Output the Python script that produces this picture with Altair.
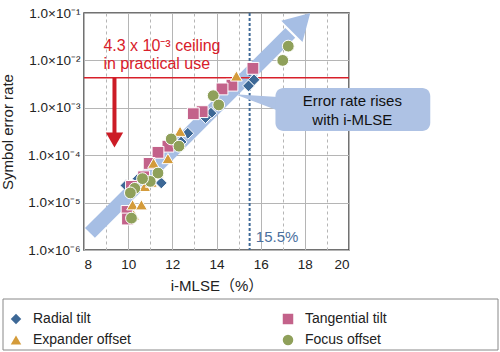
import altair as alt
import pandas as pd

FONT = "Liberation Sans, Arial, Noto Sans CJK JP, sans-serif"

# ---- series data ----
series_names = ["Radial tilt", "Tangential tilt", "Expander offset", "Focus offset"]
series_colors = ["#3d6896", "#c3628a", "#d49b3a", "#8fa05a"]
series_shapes = ["diamond", "square", "triangle-up", "circle"]

radial_x = [15.7, 15.45, 13.75, 13.5, 12.7, 12.4, 11.5, 10.45, 9.9]
radial_y = [3.9e-3, 2.9e-3, 7.7e-4, 6.2e-4, 2.9e-4, 1.9e-4, 2.6e-5, 3.2e-5, 2.3e-5]

tangential_x = [15.65, 14.7, 14.25, 13.35, 12.95, 11.8, 11.35, 10.95, 10.7, 10.15, 9.95, 9.97]
tangential_y = [6.8e-3, 3.0e-3, 2.5e-3, 8.3e-4, 7.5e-4, 1.55e-4, 1.15e-4, 6.7e-5, 3.5e-5, 2.2e-5, 6.5e-6, 4.5e-6]

expander_x = [14.9, 12.35, 11.8, 11.15, 11.35, 10.75, 11.05, 10.2, 10.6, 10.25]
expander_y = [4.7e-3, 3.2e-4, 8.5e-5, 6.8e-5, 4.3e-5, 2.2e-5, 2.7e-5, 9e-6, 9e-6, 5.5e-6]

focus_x = [17.25, 17.0, 13.85, 14.1, 11.95, 12.3, 11.35, 11.0, 10.65, 10.3, 10.1, 10.15]
focus_y = [2.0e-2, 1.0e-2, 1.8e-3, 1.15e-3, 2.2e-4, 1.55e-4, 4.2e-5, 2.8e-5, 3.2e-5, 2.0e-5, 1.6e-5, 4.7e-6]

# ---- axes ----
x_tick_values = list(range(8, 21))
y_tick_values = [1e-6, 1e-5, 1e-4, 1e-3, 1e-2, 1e-1]
y_tick_labels = ["1.0×10⁻⁶", "1.0×10⁻⁵", "1.0×10⁻⁴", "1.0×10⁻³", "1.0×10⁻²", "1.0×10⁻¹"]

# ---- annotations (data space) ----
ceiling_value = 4.3e-3
ceiling_arrow_x = [9.38, 9.38]
ceiling_arrow_y = [4.3e-3, 2.9e-4]
ceiling_head_x = [9.38]
ceiling_head_y = [2.1e-4]
ceiling_text = ["4.3 x 10⁻³ ceiling", "in practical use"]
ceiling_text_x = [8.88, 8.88]
ceiling_text_y = [2.0e-2, 8.4e-3]

limit_x = 15.5
limit_label = "15.5%"
limit_label_x = 15.78
limit_label_y = 1.86e-6

trend_x = [8.27, 17.34]
trend_y = [2.3e-6, 3.8e-2]
trend_head_x = [17.83]
trend_head_y = [6.4e-2]

callout_text = ["Error rate rises", "with i-MLSE"]
callout_text_x = [20.15, 20.15]
callout_text_y = [1.38e-3, 5.5e-4]
callout_box = {"x": 16.67, "x2": 23.68, "y": 2.63e-3, "y2": 3.24e-4}
pointer_x = [14.99, 16.9]
pointer_y = [1.86e-3, 1.2e-3]
pointer_w = [0, 14]

# ---- build tables ----
rows = []
for name, xs, ys in zip(series_names,
                        [radial_x, tangential_x, expander_x, focus_x],
                        [radial_y, tangential_y, expander_y, focus_y]):
    rows += [{"series": name, "x": a, "y": b} for a, b in zip(xs, ys)]
points_df = pd.DataFrame(rows)

label_expr = ""
for i, lab in enumerate(y_tick_labels[:-1]):
    label_expr += f"datum.value < {y_tick_values[i] * 3} ? '{lab}' : "
label_expr += f"'{y_tick_labels[-1]}'"

x_scale = alt.Scale(domain=[8, 20], nice=False, zero=False)
y_scale = alt.Scale(type="log", domain=[1e-6, 1e-1], nice=False)

x_axis = alt.Axis(
    values=x_tick_values,
    labelExpr="datum.value % 2 == 0 ? datum.label : ''",
    ticks=False, domain=False,
    gridColor="#b5b5b5",
    gridDash=alt.condition("datum.value % 2 == 1", alt.value([3, 3]), alt.value([])),
    labelFontSize=13.5, labelColor="#222", labelPadding=7,
    titleFontSize=15, titleFontWeight="normal", titleColor="#222", titlePadding=8,
)
y_axis = alt.Axis(
    values=y_tick_values, labelExpr=label_expr,
    ticks=False, domain=False, gridColor="#b5b5b5",
    labelFontSize=13.5, labelColor="#222", labelPadding=4,
    titleFontSize=15, titleFontWeight="normal", titleColor="#222", titlePadding=12,
)


def X(field="x"):
    return alt.X(f"{field}:Q", scale=x_scale, axis=x_axis, title="i-MLSE（%）")


def Y(field="y"):
    return alt.Y(f"{field}:Q", scale=y_scale, axis=y_axis, title="Symbol error rate")


ARROW_BLUE = "#a6bee4"
RED = "#d8202a"

trend_shaft = alt.Chart(pd.DataFrame({"x": trend_x, "y": trend_y})).mark_line(
    color=ARROW_BLUE, strokeWidth=14, strokeCap="butt"
).encode(x=X(), y=Y())

trend_head = alt.Chart(pd.DataFrame({"x": trend_head_x, "y": trend_head_y})).mark_point(
    shape="triangle-up", angle=45, size=900, filled=True, color=ARROW_BLUE, opacity=1
).encode(x=X(), y=Y())

ceiling_line = alt.Chart(pd.DataFrame({"y": [ceiling_value]})).mark_rule(
    color=RED, strokeWidth=1.6
).encode(y=Y(), x=alt.value(0), x2=alt.value(265))

limit_line = alt.Chart(pd.DataFrame({"x": [limit_x]})).mark_rule(
    color="#3d6896", strokeWidth=2, strokeDash=[3, 2]
).encode(x=X())

ceiling_shaft = alt.Chart(pd.DataFrame({"x": ceiling_arrow_x, "y": ceiling_arrow_y})).mark_line(
    color="#cc1c26", strokeWidth=4, strokeCap="butt"
).encode(x=X(), y=Y())

ceiling_head = alt.Chart(pd.DataFrame({"x": ceiling_head_x, "y": ceiling_head_y})).mark_point(
    shape="triangle-down", size=300, filled=True, color="#cc1c26", opacity=1
).encode(x=X(), y=Y())

pointer = alt.Chart(pd.DataFrame({"x": pointer_x, "y": pointer_y, "w": pointer_w})).mark_trail(
    color="#aec2e4"
).encode(x=X(), y=Y(), size=alt.Size("w:Q", scale=None, legend=None))

callout_rect = alt.Chart(pd.DataFrame([callout_box])).mark_rect(
    color="#aec2e4", cornerRadius=8
).encode(x=X(), x2="x2:Q", y=Y(), y2="y2:Q")

callout_label = alt.Chart(pd.DataFrame({"x": callout_text_x, "y": callout_text_y, "t": callout_text})).mark_text(
    font=FONT, fontSize=15, color="#111", align="center", baseline="middle"
).encode(x=X(), y=Y(), text="t:N")

ceiling_label = alt.Chart(pd.DataFrame({"x": ceiling_text_x, "y": ceiling_text_y, "t": ceiling_text})).mark_text(
    font=FONT, fontSize=16, color=RED, align="left", baseline="middle"
).encode(x=X(), y=Y(), text="t:N")

limit_text = alt.Chart(pd.DataFrame({"x": [limit_label_x], "y": [limit_label_y], "t": [limit_label]})).mark_text(
    font=FONT, fontSize=15, color="#4a6f9e", align="left", baseline="middle"
).encode(x=X(), y=Y(), text="t:N")

legend = alt.Legend(
    orient="none", legendX=-75, legendY=299, columns=2, direction="horizontal",
    columnPadding=150, rowPadding=7, symbolSize=110, labelFontSize=14, labelFont=FONT,
    labelColor="#222", labelOffset=10, symbolStrokeWidth=0, padding=0,
)

points = alt.Chart(points_df).mark_point(
    filled=True, opacity=1, size=140, stroke="white", strokeWidth=1
).encode(
    x=X(), y=Y(),
    color=alt.Color("series:N", scale=alt.Scale(domain=series_names, range=series_colors),
                    legend=legend, title=None),
    shape=alt.Shape("series:N", scale=alt.Scale(domain=series_names, range=series_shapes),
                    legend=legend, title=None),
)

legend_frame = alt.Chart(pd.DataFrame({"k": [0]})).mark_rect(
    fill="white", stroke="#888", strokeWidth=1
).encode(x=alt.value(-81), x2=alt.value(414), y=alt.value(286), y2=alt.value(337))

chart = alt.layer(
    legend_frame, trend_shaft, trend_head, ceiling_line, limit_line,
    ceiling_shaft, ceiling_head, pointer, callout_rect, callout_label,
    points, ceiling_label, limit_text,
).properties(
    width=265, height=237,
    autosize=alt.AutoSizeParams(type="none"),
    padding={"left": 84, "top": 13, "right": 151, "bottom": 102},
).configure(
    font=FONT, background="white",
).configure_view(
    stroke="#444", strokeWidth=1.5,
)

chart.save("out.html", embed_options={"renderer": "svg", "actions": False})
